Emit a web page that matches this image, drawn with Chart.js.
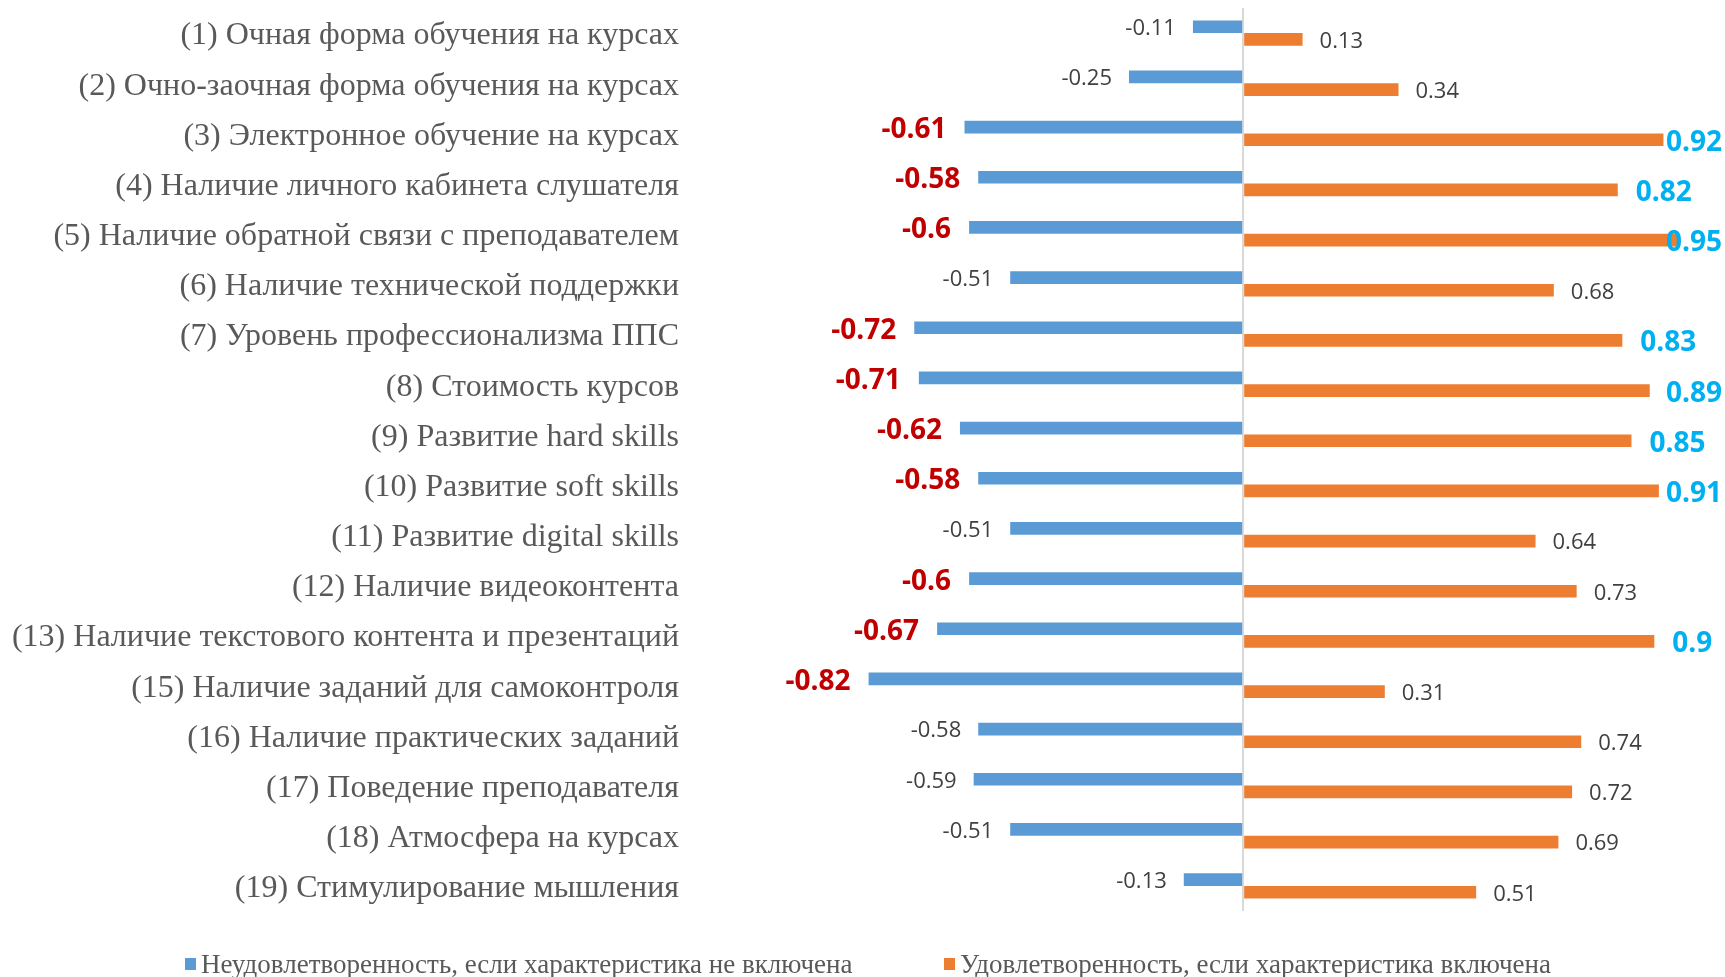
<!DOCTYPE html>
<html>
<head>
<meta charset="utf-8">
<script src="https://cdn.jsdelivr.net/npm/chart.js@4.4.1/dist/chart.umd.min.js"></script>
<style>
  html, body { margin: 0; padding: 0; background: #ffffff; }
  #wrap { position: relative; width: 1725px; height: 977px; overflow: hidden; }
  #legend { position: absolute; left: 0; top: 948px; width: 1725px; height: 32px;
            font-family: "Liberation Serif", "Times New Roman", serif; font-size: 27px; color: #595959; }
  .item { position: absolute; top: 0; height: 32px; white-space: nowrap; display: flex; align-items: center; }
  .sw { display: inline-block; width: 11px; height: 12px; margin-right: 5px; flex: none; }
</style>
</head>
<body>
<div id="wrap">
  <canvas id="c" width="1725" height="977"></canvas>
  <div id="legend"></div>
</div>
<script>
const categories = [
  "(1) Очная форма обучения на курсах",
  "(2) Очно-заочная форма обучения на курсах",
  "(3) Электронное обучение на курсах",
  "(4) Наличие личного кабинета слушателя",
  "(5) Наличие обратной связи с преподавателем",
  "(6) Наличие технической поддержки",
  "(7) Уровень профессионализма ППС",
  "(8) Стоимость курсов",
  "(9) Развитие hard skills",
  "(10) Развитие soft skills",
  "(11) Развитие digital skills",
  "(12) Наличие видеоконтента",
  "(13) Наличие текстового контента и презентаций",
  "(15) Наличие заданий для самоконтроля",
  "(16) Наличие практических заданий",
  "(17) Поведение преподавателя",
  "(18) Атмосфера на курсах",
  "(19) Стимулирование мышления"
];
const seriesNames = [
  "Неудовлетворенность, если характеристика не включена",
  "Удовлетворенность, если характеристика включена"
];
const dissatisfaction = [-0.11, -0.25, -0.61, -0.58, -0.6, -0.51, -0.72, -0.71, -0.62, -0.58, -0.51, -0.6, -0.67, -0.82, -0.58, -0.59, -0.51, -0.13];
const satisfaction    = [0.13, 0.34, 0.92, 0.82, 0.95, 0.68, 0.83, 0.89, 0.85, 0.91, 0.64, 0.73, 0.9, 0.31, 0.74, 0.72, 0.69, 0.51];
const dissatisfactionHighlight = [false, false, true, true, true, false, true, true, true, true, false, true, true, true, false, false, false, false];
const satisfactionHighlight    = [false, false, true, true, true, false, true, true, true, true, false, false, true, false, false, false, false, false];

const colors = ["#5B9BD5", "#ED7D31"];
const highlightColors = ["#C00000", "#00B0F0"];
const highlights = [dissatisfactionHighlight, satisfactionHighlight];

const labelPlugin = {
  id: 'valueLabels',
  afterDatasetsDraw(chart) {
    const ctx = chart.ctx;
    ctx.save();
    ctx.textBaseline = 'middle';
    chart.data.datasets.forEach((ds, di) => {
      const meta = chart.getDatasetMeta(di);
      meta.data.forEach((el, i) => {
        const v = ds.data[i];
        const hl = highlights[di][i];
        ctx.font = hl ? 'bold 28px "Open Sans"' : '22px "Open Sans"';
        ctx.fillStyle = hl ? highlightColors[di] : '#404040';
        const txt = String(v);
        const w = ctx.measureText(txt).width;
        const gap = hl ? 18 : 17;
        const dy = hl ? 3 : 2;
        if (v < 0) {
          ctx.textAlign = 'right';
          ctx.fillText(txt, el.x - gap, el.y + dy);
        } else {
          ctx.textAlign = 'left';
          let x = el.x + gap;
          if (x + w > chart.width - 3) x = chart.width - 3 - w;
          ctx.fillText(txt, x, el.y + dy);
        }
      });
    });
    ctx.restore();
  }
};

new Chart(document.getElementById('c'), {
  type: 'bar',
  data: {
    labels: categories,
    datasets: [
      { label: seriesNames[0], data: dissatisfaction, backgroundColor: colors[0] },
      { label: seriesNames[1], data: satisfaction, backgroundColor: colors[1] }
    ]
  },
  options: {
    indexAxis: 'y',
    responsive: false,
    animation: false,
    devicePixelRatio: 1,
    layout: { padding: { left: 0, right: 25, top: 8, bottom: 66 } },
    datasets: { bar: { categoryPercentage: 0.505, barPercentage: 1.0 } },
    plugins: { legend: { display: false }, tooltip: { enabled: false } },
    scales: {
      x: {
        min: -1.2, max: 1.0,
        ticks: { display: false, stepSize: 0.2 },
        grid: {
          drawTicks: false,
          lineWidth: 2,
          color: (c) => (c.tick && Math.abs(c.tick.value) < 1e-9) ? '#D9D9D9' : 'rgba(0,0,0,0)'
        },
        border: { display: false },
        afterFit: (s) => { s.height = 0; s.paddingLeft = 0; s.paddingRight = 0; }
      },
      y: {
        grid: { display: false, drawTicks: false },
        border: { display: false },
        ticks: {
          padding: 16,
          labelOffset: 3,
          color: '#595959',
          font: { family: '"Liberation Serif", "Times New Roman", serif', size: 32 }
        },
        afterFit: (s) => { s.width = 695; s.paddingTop = 0; s.paddingBottom = 0; }
      }
    }
  },
  plugins: [labelPlugin]
});

// legend (HTML text)
const legend = document.getElementById('legend');
const legendLeft = [185, 944];
seriesNames.forEach((name, i) => {
  const d = document.createElement('div');
  d.className = 'item';
  d.style.left = legendLeft[i] + 'px';
  const sw = document.createElement('span');
  sw.className = 'sw';
  sw.style.background = colors[i];
  d.appendChild(sw);
  d.appendChild(document.createTextNode(name));
  legend.appendChild(d);
});
</script>
</body>
</html>
